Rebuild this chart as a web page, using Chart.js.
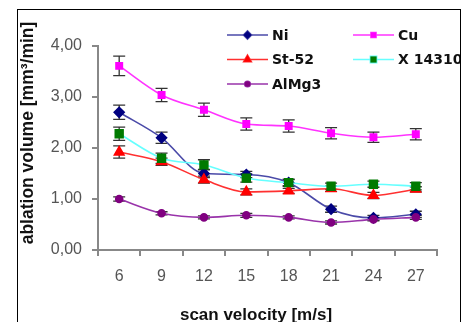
<!DOCTYPE html>
<html>
<head>
<meta charset="utf-8">
<script src="https://cdn.jsdelivr.net/npm/chart.js@4"></script>
<style>
  html, body { margin: 0; padding: 0; background: #fff; }
  canvas { display: block; }
</style>
</head>
<body>
<canvas id="ablationChart" width="476" height="322"></canvas>
<script>
// scan velocity [m/s]
const velocities = ["6", "9", "12", "15", "18", "21", "24", "27"];

// ablation volume [mm³/min]
const ni = [2.70, 2.20, 1.50, 1.48, 1.32, 0.80, 0.63, 0.70];
const cu = [3.61, 3.04, 2.75, 2.47, 2.43, 2.29, 2.21, 2.27];
const st52 = [1.92, 1.73, 1.38, 1.14, 1.16, 1.20, 1.07, 1.19];
const x14310 = [2.28, 1.80, 1.67, 1.41, 1.32, 1.25, 1.29, 1.25];
const almg3 = [1.00, 0.72, 0.64, 0.68, 0.64, 0.54, 0.60, 0.64];

// error bar half widths
const niErr = [0.14, 0.11, 0.08, 0.06, 0.06, 0.06, 0.05, 0.06];
const cuErr = [0.19, 0.13, 0.13, 0.12, 0.12, 0.11, 0.10, 0.11];
const st52Err = [0.12, 0.07, 0.07, 0.06, 0.05, 0.05, 0.06, 0.05];
const x14310Err = [0.13, 0.10, 0.10, 0.08, 0.07, 0.06, 0.06, 0.07];
const almg3Err = [0.04, 0.03, 0.03, 0.04, 0.03, 0.03, 0.03, 0.04];

const yTicks = [0, 1, 2, 3, 4];

function series(label, data, err, line, marker, style, radius, order) {
  return {
    label: label,
    data: data,
    errors: err,
    borderColor: line,
    borderWidth: 1.6,
    backgroundColor: marker,
    pointBackgroundColor: marker,
    pointBorderColor: marker,
    pointStyle: style,
    pointRadius: radius,
    pointHoverRadius: radius,
    cubicInterpolationMode: "monotone",
    order: order,
  };
}

// frame around whole picture + white background
const framePlugin = {
  id: "frame",
  beforeDraw(chart) {
    const ctx = chart.ctx;
    ctx.save();
    ctx.fillStyle = "#fff";
    ctx.fillRect(0, 0, chart.width, chart.height);
    ctx.restore();
  },
  afterDraw(chart) {
    const ctx = chart.ctx;
    ctx.save();
    ctx.strokeStyle = "#000";
    ctx.lineWidth = 1;
    ctx.strokeRect(17.5, 9.5, 443, 340);
    ctx.restore();
  },
};

// error bars, drawn under the markers
const errorBarPlugin = {
  id: "errorBars",
  beforeDatasetsDraw(chart) {
    const ctx = chart.ctx;
    const y = chart.scales.y;
    ctx.save();
    ctx.strokeStyle = "#333";
    ctx.lineWidth = 1.3;
    chart.data.datasets.forEach((ds, i) => {
      const meta = chart.getDatasetMeta(i);
      meta.data.forEach((pt, j) => {
        const top = y.getPixelForValue(ds.data[j] + ds.errors[j]);
        const bot = y.getPixelForValue(ds.data[j] - ds.errors[j]);
        ctx.beginPath();
        ctx.moveTo(pt.x, top);
        ctx.lineTo(pt.x, bot);
        ctx.moveTo(pt.x - 6, top);
        ctx.lineTo(pt.x + 6, top);
        ctx.moveTo(pt.x - 6, bot);
        ctx.lineTo(pt.x + 6, bot);
        ctx.stroke();
      });
    });
    ctx.restore();
  },
};

// legend in two columns inside the plot + axis titles
const labelsPlugin = {
  id: "labels",
  afterDraw(chart) {
    const ctx = chart.ctx;
    const cols = [227, 353];
    const rows = [35, 59.5, 84];
    ctx.save();
    ctx.beginPath();
    ctx.rect(0, 0, 460, chart.height);
    ctx.clip();
    chart.data.datasets.forEach((ds, i) => {
      const x = cols[i % 2];
      const yy = rows[Math.floor(i / 2)];
      ctx.strokeStyle = ds.borderColor;
      ctx.lineWidth = 1.6;
      ctx.beginPath();
      ctx.moveTo(x, yy);
      ctx.lineTo(x + 41, yy);
      ctx.stroke();
      Chart.helpers.drawPoint(ctx, {
        pointStyle: ds.pointStyle,
        radius: ds.pointRadius * 0.8,
        borderWidth: 1,
      }, x + 20.5, yy);
      ctx.fillStyle = ds.pointBackgroundColor;
      ctx.fill();
      ctx.fillStyle = "#111";
      ctx.font = "bold 14px 'DejaVu Sans'";
      ctx.textBaseline = "middle";
      ctx.textAlign = "left";
      ctx.fillText(ds.label, x + 45, yy + 1);
    });
    ctx.restore();

    ctx.save();
    ctx.fillStyle = "#111";
    ctx.font = "bold 17px 'Liberation Sans'";
    ctx.textAlign = "center";
    ctx.textBaseline = "middle";
    ctx.fillText("scan velocity [m/s]", 256, 315);
    ctx.translate(28, 133);
    ctx.rotate(-Math.PI / 2);
    ctx.font = "bold 17.5px 'Liberation Sans'";
    ctx.fillText("ablation volume [mm³/min]", 0, 0);
    ctx.restore();
  },
};

const ctx = document.getElementById("ablationChart").getContext("2d");

new Chart(ctx, {
  type: "line",
  data: {
    labels: velocities,
    datasets: [
      series("Ni", ni, niErr, "#4a4aa8", "#000080", "rectRot", 5, 5),
      series("Cu", cu, cuErr, "#ff33ff", "#ff00ff", "rect", 4.5, 4),
      series("St-52", st52, st52Err, "#ff3030", "#ff0000", "triangle", 5.5, 3),
      series("X 14310", x14310, x14310Err, "#66ffff", "#007a00", "rect", 5.5, 2),
      series("AlMg3", almg3, almg3Err, "#9933aa", "#800080", "circle", 3.5, 1),
    ],
  },
  options: {
    responsive: false,
    devicePixelRatio: 1,
    animation: false,
    layout: { padding: { left: 0, top: 46, right: 39, bottom: 0 } },
    plugins: {
      legend: { display: false },
      tooltip: { enabled: false },
    },
    scales: {
      x: {
        type: "category",
        offset: true,
        grid: {
          offset: true,
          drawOnChartArea: false,
          drawTicks: true,
          tickLength: 6,
          color: "#888",
          lineWidth: 2,
        },
        border: { color: "#888", width: 2 },
        ticks: {
          color: "#555",
          font: { family: "'Liberation Sans'", size: 16 },
          padding: 11,
          maxRotation: 0,
        },
        afterFit(scale) { scale.height = 72; },
      },
      y: {
        min: 0,
        max: 4,
        afterBuildTicks(scale) {
          scale.ticks = yTicks.map(v => ({ value: v }));
        },
        grid: {
          drawOnChartArea: false,
          drawTicks: true,
          tickLength: 6,
          color: "#888",
          lineWidth: 2,
        },
        border: { color: "#888", width: 2 },
        ticks: {
          color: "#555",
          font: { family: "'Liberation Sans'", size: 16 },
          padding: 10,
          callback: v => v.toFixed(2).replace(".", ","),
        },
        afterFit(scale) { scale.width = 98; },
      },
    },
  },
  plugins: [framePlugin, errorBarPlugin, labelsPlugin],
});
</script>
</body>
</html>
